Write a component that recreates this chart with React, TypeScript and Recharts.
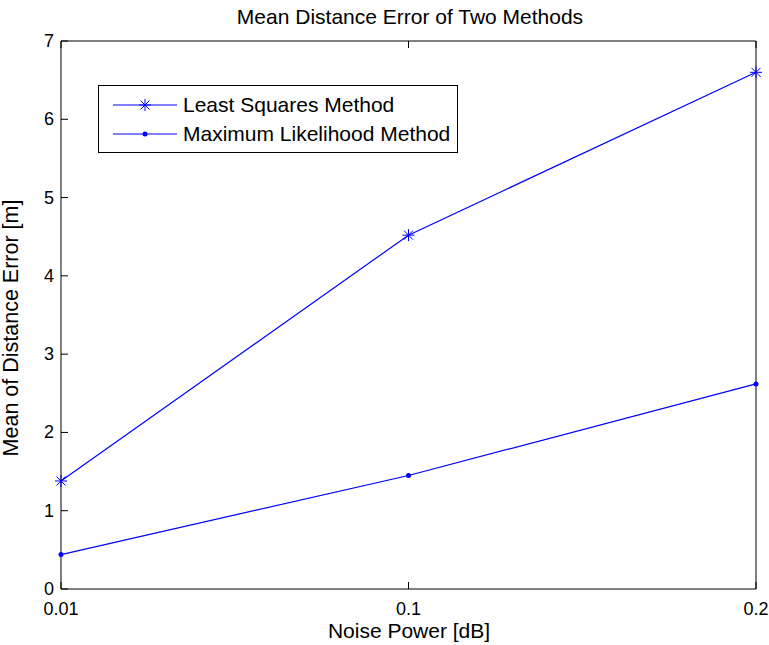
import React from 'react';
import { Customized, Legend, Line, LineChart, XAxis, YAxis } from 'recharts';

const noisePower = ['0.01', '0.1', '0.2'];
const leastSquares = [1.38, 4.52, 6.6];
const maxLikelihood = [0.44, 1.45, 2.62];
const yTicks = [0, 1, 2, 3, 4, 5, 6, 7];

const FONT = '"Liberation Sans", Arial, Helvetica, sans-serif';
const BLUE = '#0000ff';
const TICK_LEN = 7;

const data = noisePower.map((x, i) => ({ x, ls: leastSquares[i], ml: maxLikelihood[i] }));

const LeftTick = ({ x, y, payload }: any) => (
  <g>
    <line x1={x} x2={x + TICK_LEN} y1={y} y2={y} stroke="#000" />
    <text x={x - 7} y={y} dy="0.33em" textAnchor="end" fontSize={18} fontFamily={FONT} fill="#000">
      {payload.value}
    </text>
  </g>
);

const RightTick = ({ x, y }: any) => (
  <line x1={x - TICK_LEN} x2={x} y1={y} y2={y} stroke="#000" />
);

const BottomTick = ({ x, y, payload }: any) => (
  <g>
    <line x1={x} x2={x} y1={y - TICK_LEN} y2={y} stroke="#000" />
    <text x={x} y={y + 26} textAnchor="middle" fontSize={18} fontFamily={FONT} fill="#000">
      {payload.value}
    </text>
  </g>
);

const TopTick = ({ x, y }: any) => (
  <line x1={x} x2={x} y1={y} y2={y + TICK_LEN} stroke="#000" />
);

const StarDot = ({ cx, cy }: any) => {
  if (cx == null || cy == null) return null;
  return (
    <g stroke={BLUE} strokeWidth={1}>
      <line x1={cx - 6} x2={cx + 6} y1={cy} y2={cy} />
      <line x1={cx} x2={cx} y1={cy - 6} y2={cy + 6} />
      <line x1={cx - 4.5} x2={cx + 4.5} y1={cy - 4.5} y2={cy + 4.5} />
      <line x1={cx - 4.5} x2={cx + 4.5} y1={cy + 4.5} y2={cy - 4.5} />
    </g>
  );
};

const PointDot = ({ cx, cy }: any) => {
  if (cx == null || cy == null) return null;
  return <circle cx={cx} cy={cy} r={2.5} fill={BLUE} stroke="none" />;
};

const LegendBox = () => (
  <div
    style={{
      width: 358,
      height: 66,
      border: '1px solid #000',
      background: '#fff',
      fontFamily: FONT,
      fontSize: 21,
      color: '#000',
      position: 'relative',
    }}
  >
    {[
      { name: 'Least Squares Method', Dot: StarDot },
      { name: 'Maximum Likelihood Method', Dot: PointDot },
    ].map((item, i) => (
      <div
        key={item.name}
        style={{ position: 'absolute', left: 13, top: 5 + i * 29, height: 28, display: 'flex', alignItems: 'center' }}
      >
        <svg width={66} height={28}>
          <line x1={1} x2={65} y1={14} y2={14} stroke={BLUE} />
          <item.Dot cx={33} cy={14} />
        </svg>
        <span style={{ marginLeft: 5, whiteSpace: 'nowrap' }}>{item.name}</span>
      </div>
    ))}
  </div>
);

const Texts = () => (
  <g fontFamily={FONT} fill="#000">
    <text x={410} y={24} textAnchor="middle" fontSize={21}>
      Mean Distance Error of Two Methods
    </text>
    <text x={409} y={638} textAnchor="middle" fontSize={21}>
      Noise Power [dB]
    </text>
    <text x={18} y={328} textAnchor="middle" fontSize={21.5} transform="rotate(-90 18 328)">
      Mean of Distance Error [m]
    </text>
  </g>
);

export default function App() {
  return (
    <div style={{ position: 'absolute', left: 0, top: 0, background: '#fff' }}>
      <LineChart width={769} height={645} data={data} margin={{ top: 40, right: 12, bottom: 55, left: 60 }}>
        <XAxis
          dataKey="x"
          height={1}
          tickSize={0}
          tickMargin={0}
          tickLine={false}
          axisLine={{ stroke: '#000' }}
          tick={<BottomTick />}
          interval={0}
        />
        <XAxis
          xAxisId="top"
          orientation="top"
          dataKey="x"
          height={1}
          tickSize={0}
          tickMargin={0}
          tickLine={false}
          axisLine={{ stroke: '#000' }}
          tick={<TopTick />}
          interval={0}
        />
        <YAxis
          width={1}
          domain={[0, 7]}
          ticks={yTicks}
          tickSize={0}
          tickMargin={0}
          tickLine={false}
          axisLine={{ stroke: '#000' }}
          tick={<LeftTick />}
          interval={0}
        />
        <YAxis
          yAxisId="right"
          orientation="right"
          width={1}
          domain={[0, 7]}
          ticks={yTicks}
          tickSize={0}
          tickMargin={0}
          tickLine={false}
          axisLine={{ stroke: '#000' }}
          tick={<RightTick />}
          interval={0}
        />
        <Legend
          layout="horizontal"
          verticalAlign="middle"
          align="center"
          wrapperStyle={{ left: 98, top: 85, width: 360 }}
          content={<LegendBox />}
        />
        <Line
          dataKey="ls"
          name="Least Squares Method"
          type="linear"
          stroke={BLUE}
          strokeWidth={1.2}
          dot={<StarDot />}
          activeDot={false}
          isAnimationActive={false}
        />
        <Line
          dataKey="ml"
          name="Maximum Likelihood Method"
          type="linear"
          stroke={BLUE}
          strokeWidth={1.2}
          dot={<PointDot />}
          activeDot={false}
          isAnimationActive={false}
        />
        <Customized component={Texts} />
      </LineChart>
    </div>
  );
}
